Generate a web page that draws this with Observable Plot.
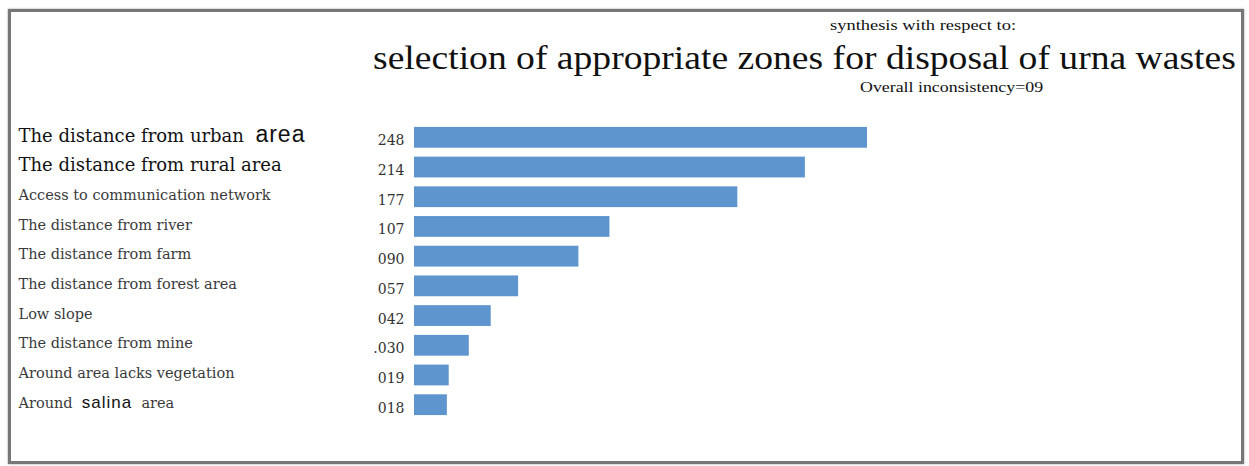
<!DOCTYPE html>
<html>
<head>
<meta charset="utf-8">
<script src="https://cdn.jsdelivr.net/npm/d3@7"></script>
<script src="https://cdn.jsdelivr.net/npm/@observablehq/plot@0.6"></script>
<style>
  html, body { margin: 0; padding: 0; background: #fff; width: 1249px; height: 466px; overflow: hidden; }
  #frame { position: absolute; left: 8px; top: 9px; width: 1230px; height: 449px; border: 3px solid #777; box-shadow: 0 0 2px #999; }
  .t { position: absolute; font-family: "Liberation Serif", serif; color: #111; white-space: nowrap; transform-origin: 0 0; }
  #sup { left: 830px; top: 17px; font-size: 15px; transform: scaleX(1.23); }
  #title { left: 373px; top: 40px; font-size: 33px; transform: scaleX(1.14); }
  #sub { left: 860px; top: 79px; font-size: 15px; transform: scaleX(1.19); }
  #chart { position: absolute; left: 0; top: 110px; }
</style>
</head>
<body>
<div id="frame"></div>
<div class="t" id="sup">synthesis with respect to:</div>
<div class="t" id="title">selection of appropriate zones for disposal of urna wastes</div>
<div class="t" id="sub">Overall inconsistency=09</div>
<div id="chart"></div>
<script>
const categories = [
  "The distance from urban area",
  "The distance from rural area",
  "Access to communication network",
  "The distance from river",
  "The distance from farm",
  "The distance from forest area",
  "Low slope",
  "The distance from mine",
  "Around area lacks vegetation",
  "Around salina area"
];
const weights = [0.248, 0.214, 0.177, 0.107, 0.090, 0.057, 0.042, 0.030, 0.019, 0.018];
const valueLabels = ["248", "214", "177", "107", "090", "057", "042", ".030", "019", "018"];

const rows = categories.map((c, i) => ({category: c, weight: weights[i], label: valueLabels[i], rank: i}));

const chart = Plot.plot({
  width: 1249,
  height: 320,
  marginLeft: 414,
  marginRight: 382,
  marginTop: 8,
  marginBottom: 6,
  x: {domain: [0, 0.248], axis: null},
  y: {domain: categories, padding: 0.3, round: false, axis: null},
  style: {fontFamily: "'DejaVu Serif', serif", background: "transparent"},
  marks: [
    Plot.barX(rows, {x: "weight", y: "category", fill: "#5f95cf"}),
    Plot.text(rows, {
      y: "category", text: "label", x: 0, dx: -10, dy: 3,
      textAnchor: "end", fontSize: 14, fill: "#333"
    }),
    Plot.text(rows, {
      y: "category", text: "category", frameAnchor: "left", dx: -396, dy: -2,
      textAnchor: "start",
      fontSize: d => d.rank < 2 ? 18 : 14.5,
      fill: d => d.rank < 2 ? "#111" : "#3a3a3a"
    })
  ]
});

// Mixed-size words as in the reference labels
d3.select(chart).selectAll("text").each(function() {
  const el = d3.select(this);
  const s = el.text();
  if (s === categories[0]) {
    el.text("The distance from urban  ");
    el.append("tspan").attr("font-size", 23).attr("letter-spacing", 1).attr("font-family", "'Liberation Sans', sans-serif").text("area");
  } else if (s === categories[9]) {
    el.text("Around  ");
    el.append("tspan").attr("font-size", 17).attr("letter-spacing", 1).attr("font-family", "'Liberation Sans', sans-serif").attr("fill", "#111").text("salina");
    el.append("tspan").text("  area");
  }
});
document.getElementById("chart").appendChild(chart);
</script>
</body>
</html>
